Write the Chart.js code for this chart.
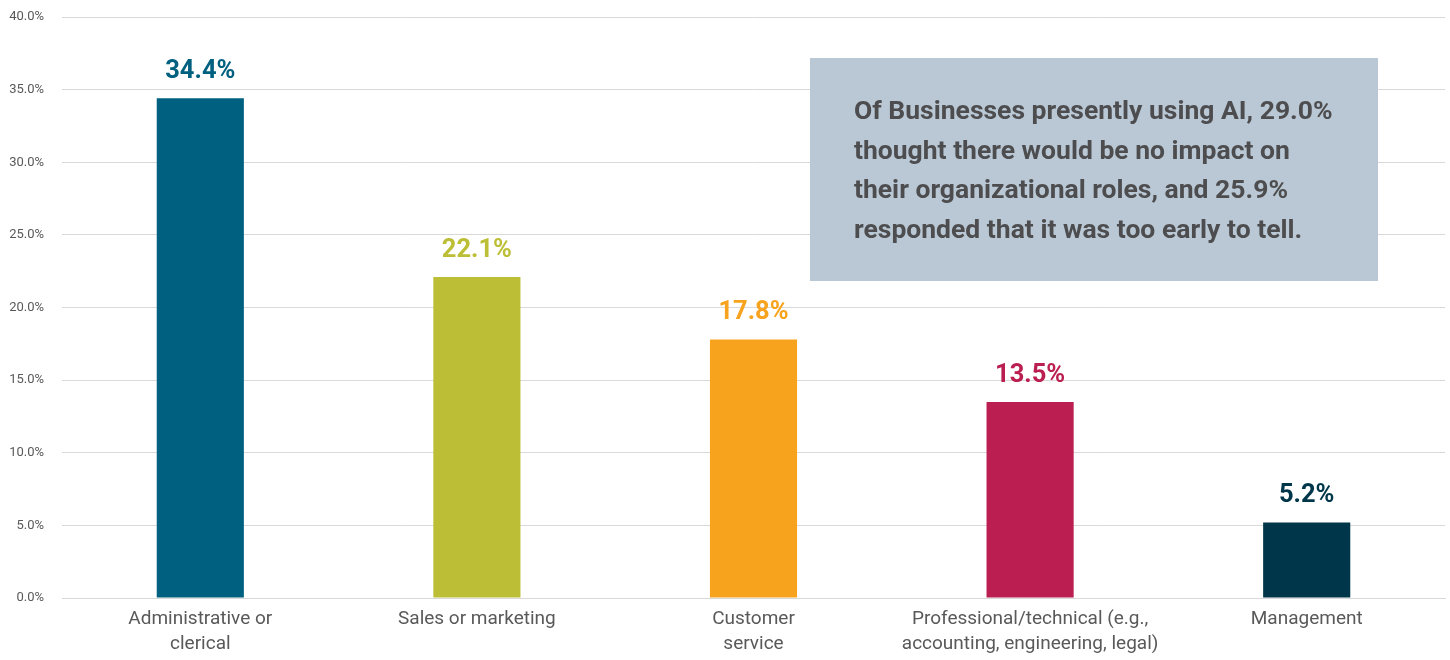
<!DOCTYPE html>
<html>
<head>
<meta charset="utf-8">
<script src="https://cdn.jsdelivr.net/npm/chart.js@4/dist/chart.umd.min.js"></script>
<style>
  html,body{margin:0;padding:0;background:#fff;}
  #wrap{width:1450px;height:660px;position:relative;}
</style>
</head>
<body>
<div id="wrap"><canvas id="c" width="1450" height="660"></canvas></div>
<script>
const categories = [
  ['Administrative or', 'clerical'],
  'Sales or marketing',
  ['Customer', 'service'],
  ['Professional/technical (e.g.,', 'accounting, engineering, legal)'],
  'Management'
];
const shares = [34.4, 22.1, 17.8, 13.5, 5.2];
const barColors = ['#00607f', '#bcbf36', '#f8a31e', '#bb1e50', '#003649'];
const noteLines = [
  'Of Businesses presently using AI, 29.0%',
  'thought there would be no impact on',
  'their organizational roles, and 25.9%',
  'responded that it was too early to tell.'
];

// value labels above each bar, in the bar's own colour
const valueLabels = {
  id: 'valueLabels',
  afterDatasetsDraw(chart) {
    const ctx = chart.ctx;
    const meta = chart.getDatasetMeta(0);
    ctx.save();
    ctx.font = 'bold 25.5px Roboto';
    ctx.textAlign = 'center';
    ctx.textBaseline = 'alphabetic';
    meta.data.forEach(function(bar, i) {
      ctx.fillStyle = barColors[i];
      ctx.fillText(shares[i].toFixed(1) + '%', bar.x, bar.y - 20);
    });
    ctx.restore();
  }
};

// grey call-out box on the right
const noteBox = {
  id: 'noteBox',
  afterDraw(chart) {
    const ctx = chart.ctx;
    ctx.save();
    ctx.fillStyle = '#b9c8d4';
    ctx.fillRect(810, 58, 568, 223);
    ctx.fillStyle = '#4d4d4f';
    ctx.font = 'bold 26.5px Roboto';
    ctx.textAlign = 'left';
    ctx.textBaseline = 'alphabetic';
    noteLines.forEach(function(t, i) {
      ctx.fillText(t, 854, 119 + i * 39.7);
    });
    ctx.restore();
  }
};

new Chart(document.getElementById('c'), {
  type: 'bar',
  data: {
    labels: categories,
    datasets: [{
      data: shares,
      backgroundColor: barColors,
      borderWidth: 0,
      categoryPercentage: 1,
      barPercentage: 0.315
    }]
  },
  options: {
    responsive: false,
    animation: false,
    layout: { padding: { top: 17, right: 5, left: 0, bottom: 0 } },
    plugins: { legend: { display: false }, tooltip: { enabled: false } },
    scales: {
      x: {
        afterFit: function(s) { s.height = 62; s.paddingLeft = 0; s.paddingRight = 0; },
        grid: { display: false, drawTicks: false },
        border: { color: '#d9d9d9', width: 1 },
        ticks: { color: '#595959', font: { family: 'Roboto', size: 19, lineHeight: 1.3 }, padding: 9, maxRotation: 0, autoSkip: false }
      },
      y: {
        min: 0, max: 40,
        afterFit: function(s) { s.width = 62; s.paddingTop = 0; s.paddingBottom = 0; },
        grid: { color: '#d9d9d9', drawTicks: false },
        border: { display: false },
        ticks: {
          stepSize: 5, color: '#595959', padding: 18,
          font: { family: 'Roboto', size: 13 },
          callback: function(v) { return v.toFixed(1) + '%'; }
        }
      }
    }
  },
  plugins: [valueLabels, noteBox]
});
</script>
</body>
</html>
